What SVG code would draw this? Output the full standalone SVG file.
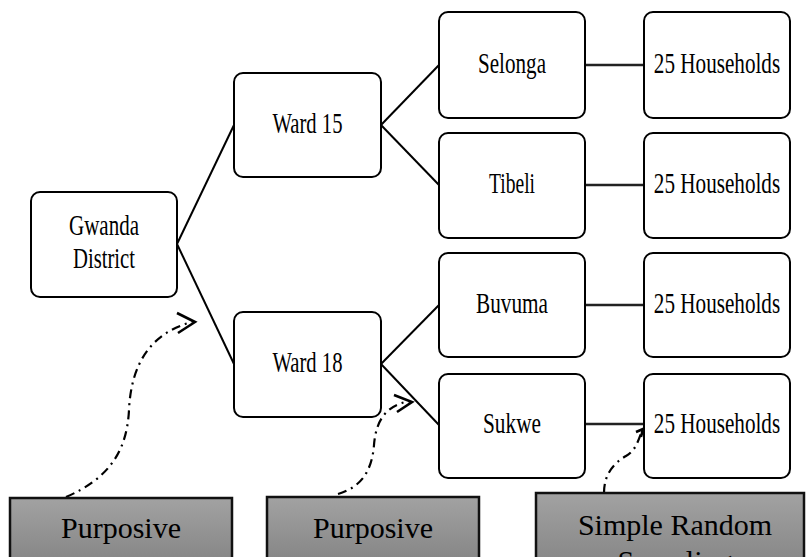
<svg xmlns="http://www.w3.org/2000/svg" width="807" height="557" viewBox="0 0 807 557">
<style>
.node rect{fill:#fff;stroke:#000;stroke-width:2}
.node text{font-family:"Liberation Serif","Times New Roman",serif;font-size:29px;fill:#000;text-anchor:middle}
.conn line{stroke:#000;stroke-width:2}
.conn .hh{stroke:#222;stroke-width:2.5}
.dash{fill:none;stroke:#000;stroke-width:2.2;stroke-dasharray:9 5 2 5}
.head{fill:none;stroke:#000;stroke-width:2.6}
.method rect{fill:url(#g);stroke:#111;stroke-width:2.5}
.method text{font-family:"Liberation Serif","Times New Roman",serif;font-size:30px;fill:#000;text-anchor:middle}
</style>
<defs>
<linearGradient id="g" x1="0" y1="0" x2="0" y2="1">
<stop offset="0" stop-color="#a2a2a2"/>
<stop offset="1" stop-color="#838383"/>
</linearGradient>
</defs>
<rect width="807" height="557" fill="#fff"/>
<g id="connectors" class="conn">
<line x1="177" y1="244" x2="234" y2="125"/>
<line x1="177" y1="244" x2="234" y2="364"/>
<line x1="381" y1="125" x2="439" y2="65"/>
<line x1="381" y1="125" x2="439" y2="185"/>
<line x1="381" y1="364" x2="439" y2="305"/>
<line x1="381" y1="364" x2="439" y2="425"/>
<line class="hh" x1="585" y1="65" x2="644" y2="65"/>
<line class="hh" x1="585" y1="185" x2="644" y2="185"/>
<line class="hh" x1="585" y1="305" x2="644" y2="305"/>
<line class="hh" x1="585" y1="424" x2="644" y2="424"/>
</g>
<g id="gwanda" class="node"><rect x="31" y="192" width="146" height="105" rx="9"/><text x="104" y="235" textLength="70" lengthAdjust="spacingAndGlyphs">Gwanda</text><text x="104" y="268" textLength="62" lengthAdjust="spacingAndGlyphs">District</text></g>
<g id="ward15" class="node"><rect x="234" y="73" width="147" height="104" rx="9"/><text x="307.5" y="133" textLength="70" lengthAdjust="spacingAndGlyphs">Ward 15</text></g>
<g id="ward18" class="node"><rect x="234" y="312" width="147" height="105" rx="9"/><text x="307.5" y="372" textLength="70" lengthAdjust="spacingAndGlyphs">Ward 18</text></g>
<g id="selonga" class="node"><rect x="439" y="12" width="146" height="106" rx="9"/><text x="512" y="73" textLength="68" lengthAdjust="spacingAndGlyphs">Selonga</text></g>
<g id="tibeli" class="node"><rect x="439" y="133" width="146" height="105" rx="9"/><text x="512" y="193" textLength="46" lengthAdjust="spacingAndGlyphs">Tibeli</text></g>
<g id="buvuma" class="node"><rect x="439" y="253" width="146" height="104" rx="9"/><text x="512" y="313" textLength="72" lengthAdjust="spacingAndGlyphs">Buvuma</text></g>
<g id="sukwe" class="node"><rect x="439" y="374" width="146" height="104" rx="9"/><text x="512" y="433" textLength="58" lengthAdjust="spacingAndGlyphs">Sukwe</text></g>
<g id="hh1" class="node"><rect x="644" y="12" width="146" height="106" rx="9"/><text transform="translate(717 73) scale(0.73 1)">25 Households</text></g>
<g id="hh2" class="node"><rect x="644" y="133" width="146" height="105" rx="9"/><text transform="translate(717 193) scale(0.73 1)">25 Households</text></g>
<g id="hh3" class="node"><rect x="644" y="253" width="146" height="104" rx="9"/><text transform="translate(717 313) scale(0.73 1)">25 Households</text></g>
<g id="hh4" class="node"><rect x="644" y="374" width="146" height="104" rx="9"/><text transform="translate(717 433) scale(0.73 1)">25 Households</text></g>
<g id="sampling-arrows">
<path class="dash" d="M 66 497 C 110 478 127 450 129 410 C 131 365 150 333 192 322"/>
<polyline class="head" points="177,313 195,322 178,333"/>
<path class="dash" d="M 338 494 C 362 487 372 470 374 445 C 376 418 388 405 410 401"/>
<polyline class="head" points="394,395 412,402 397,412"/>
<path class="dash" d="M 604 493 C 604 476 612 464 626 456 C 636 450 638 441 642 431"/>
<polyline class="head" points="636,432 643,429 641,437"/>
</g>
<g id="purposive1" class="method"><rect x="10" y="498" width="222" height="70"/><text x="121" y="538">Purposive</text></g>
<g id="purposive2" class="method"><rect x="267" y="497" width="212" height="70"/><text x="373" y="538">Purposive</text></g>
<g id="simple-random" class="method"><rect x="536" y="493" width="268" height="80"/><text x="675" y="535" font-size="31">Simple Random</text><text x="675" y="571" font-size="31">Sampling</text></g>
</svg>
